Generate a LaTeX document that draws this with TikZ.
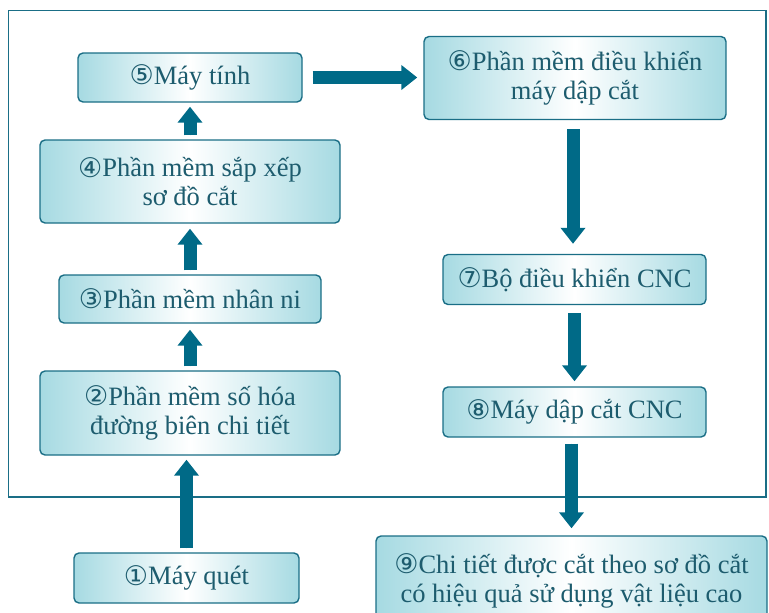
\documentclass[tikz,border=0pt]{standalone}
\usepackage{fontspec}
\setmainfont{Liberation Serif}
\newfontfamily\cdfont{DejaVu Sans}
\usetikzlibrary{arrows.meta}
\definecolor{bordc}{HTML}{1A6E86}
\definecolor{txtc}{HTML}{1D5C6E}
\definecolor{arrc}{HTML}{006A87}
\definecolor{shdc}{HTML}{A6DAE2}
\newcommand{\cd}[1]{{\cdfont\fontsize{27}{29}\selectfont\raisebox{-0.5pt}{#1}}}
\tikzset{
  box/.style={draw=bordc, line width=1.4pt, rounded corners=5pt,
    left color=shdc, right color=shdc, middle color=white,
    text=txtc, align=center, inner sep=0pt,
    font=\fontsize{26.5}{29}\selectfont},
  barrow/.style={draw=arrc, line width=13pt,
    -{Triangle[width=24pt,length=16pt]}, fill=arrc}
}
\begin{document}
\begin{tikzpicture}[x=1pt,y=-1pt]
\useasboundingbox (0,0) rectangle (769,613);
\draw[draw=bordc, line width=1.2pt] (8.5,10.5) rectangle (766,497);
\node[box, minimum width=224pt, minimum height=49pt] (n5) at (190,77.5) {\cd{⑤}Máy tính};
\node[box, minimum width=302pt, minimum height=83pt] (n6) at (575,78) {\cd{⑥}Phần mềm điều khiển\\máy dập cắt};
\node[box, minimum width=300pt, minimum height=83pt] (n4) at (190,181.5) {\cd{④}Phần mềm sắp xếp\\sơ đồ cắt};
\node[box, minimum width=262pt, minimum height=48pt] (n3) at (190,299) {\cd{③}Phần mềm nhân ni};
\node[box, minimum width=300pt, minimum height=84pt] (n2) at (190,413) {\cd{②}Phần mềm số hóa\\đường biên chi tiết};
\node[box, minimum width=225pt, minimum height=50pt] (n1) at (186.5,578) {\cd{①}Máy quét};
\node[box, minimum width=263pt, minimum height=50pt] (n7) at (574.5,279.5) {\cd{⑦}Bộ điều khiển CNC};
\node[box, minimum width=263pt, minimum height=50pt] (n8) at (574.5,412) {\cd{⑧}Máy dập cắt CNC};
\node[box, minimum width=391pt, minimum height=90pt] (n9) at (571.5,581) {\cd{⑨}Chi tiết được cắt theo sơ đồ cắt\\có hiệu quả sử dụng vật liệu cao};
\draw[barrow, shorten <=4pt, shorten >=4pt] (n1.north) -- (n1.north |- n2.south);
\draw[barrow, shorten <=4pt, shorten >=6pt] (n2.north) -- (n3.south);
\draw[barrow, shorten <=4pt, shorten >=5pt] (n3.north) -- (n4.south);
\draw[barrow, shorten <=4pt, shorten >=4pt] (n4.north) -- (n5.south);
\draw[barrow, shorten <=10pt, shorten >=6pt] (n5.east) -- (n5.east -| n6.west);
\draw[barrow, shorten <=9pt, shorten >=10pt] ([xshift=-2pt]n6.south) -- ([xshift=-2pt]n6.south |- n7.north);
\draw[barrow, shorten <=8pt, shorten >=5pt] (n7.south) -- (n8.north);
\draw[barrow, shorten <=6pt, shorten >=7pt] ([xshift=-3pt]n8.south) -- ([xshift=-3pt]n8.south |- n9.north);
\end{tikzpicture}
\end{document}
